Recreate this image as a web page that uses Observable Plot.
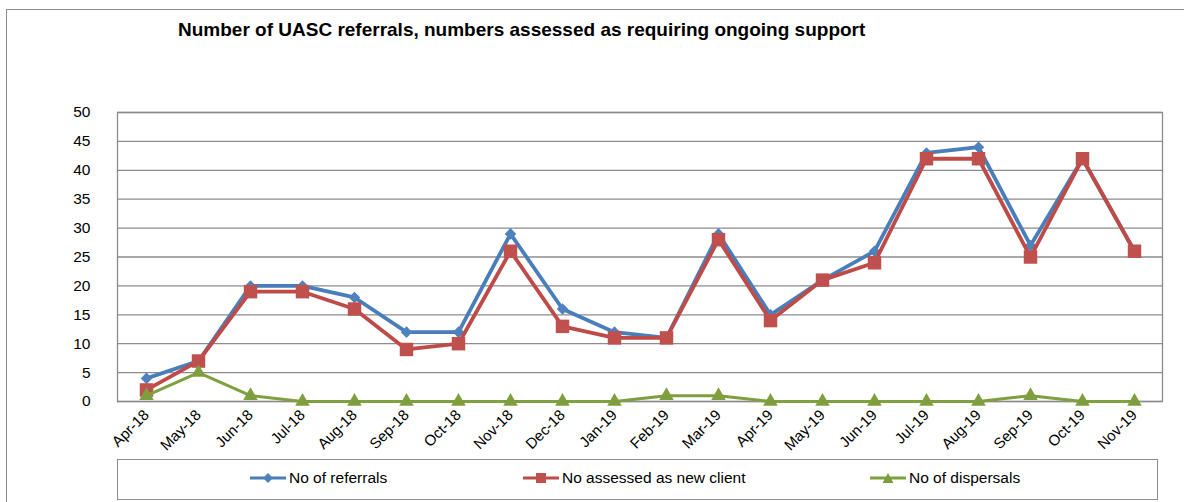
<!DOCTYPE html>
<html>
<head>
<meta charset="utf-8">
<script src="https://cdn.jsdelivr.net/npm/d3@7"></script>
<script src="https://cdn.jsdelivr.net/npm/@observablehq/plot@0.6"></script>
<style>
  html, body { margin: 0; padding: 0; background: #fff; overflow: hidden; }
  #wrap { position: relative; width: 1184px; height: 502px; font-family: "Liberation Sans", Arial, sans-serif; }
  #outer { position: absolute; left: 6px; top: 9px; width: 1200px; height: 520px; border: 1.5px solid #8c8c8c; box-sizing: border-box; }
  #title { position: absolute; left: 178px; top: 19px; font-weight: bold; font-size: 19px; color: #000; white-space: nowrap; }
  #chart { position: absolute; left: 0; top: 0; }
  #legend { position: absolute; left: 117px; top: 459px; width: 1041px; height: 41px; border: 1.5px solid #8c8c8c; box-sizing: border-box; }
  .item { position: absolute; top: 9px; font-size: 15.5px; color: #000; display: flex; align-items: center; white-space: nowrap; }
  .item svg { margin-right: 2px; }
</style>
</head>
<body>
<div id="wrap">
  <div id="outer"></div>
  <div id="title">Number of UASC referrals, numbers assessed as requiring ongoing support</div>
  <div id="chart"></div>
  <div id="legend"></div>
</div>
<script>
const months = ["Apr-18","May-18","Jun-18","Jul-18","Aug-18","Sep-18","Oct-18","Nov-18","Dec-18","Jan-19","Feb-19","Mar-19","Apr-19","May-19","Jun-19","Jul-19","Aug-19","Sep-19","Oct-19","Nov-19"];
const referrals  = [4,7,20,20,18,12,12,29,16,12,11,29,15,21,26,43,44,27,42,26];
const assessed   = [2,7,19,19,16,9,10,26,13,11,11,28,14,21,24,42,42,25,42,26];
const dispersals = [1,5,1,0,0,0,0,0,0,0,1,1,0,0,0,0,0,1,0,0];
const yTicks = [0,5,10,15,20,25,30,35,40,45,50];
const seriesNames = ["No of referrals","No assessed as new client","No of dispersals"];

const colors = {line: ["#4a7ebb","#be4b48","#7ea03f"], fill: ["#4f81bd","#c0504d","#7f9f3f"]};

const rows = (vals) => months.map((m, i) => ({month: m, value: vals[i]}));
const dRef = rows(referrals), dAss = rows(assessed), dDis = rows(dispersals);

const chart = Plot.plot({
  width: 1184,
  height: 502,
  marginTop: 112,
  marginBottom: 101,
  marginLeft: 117,
  marginRight: 22,
  style: {fontFamily: "'Liberation Sans', Arial, sans-serif", fontSize: "15px", color: "#000", background: "transparent"},
  x: {type: "point", domain: months, padding: 0.5, label: null},
  y: {domain: [0, 50], label: null},
  marks: [
    Plot.ruleY(yTicks, {stroke: "#8c8c8c", strokeWidth: 1.3}),
    Plot.frame({stroke: "#8c8c8c", strokeWidth: 1.3}),
    Plot.axisY({ticks: yTicks, tickSize: 0, tickPadding: 27, fontSize: 15.5, label: null}),
    Plot.axisX({tickSize: 0, tickPadding: 11, tickRotate: -45, fontSize: 15, label: null}),
    Plot.line(dRef, {x: "month", y: "value", stroke: colors.line[0], strokeWidth: 3.8}),
    Plot.dot(dRef, {x: "month", y: "value", symbol: "diamond2", r: 5.2, fill: colors.fill[0], stroke: null}),
    Plot.line(dAss, {x: "month", y: "value", stroke: colors.line[1], strokeWidth: 3.8}),
    Plot.dot(dAss, {x: "month", y: "value", symbol: "square", r: 7.6, fill: colors.fill[1], stroke: null}),
    Plot.line(dDis, {x: "month", y: "value", stroke: colors.line[2], strokeWidth: 3}),
    Plot.dot(dDis, {x: "month", y: "value", symbol: "triangle", r: 5.4, fill: colors.fill[2], stroke: null})
  ]
});
document.getElementById("chart").appendChild(chart);

// legend
const legend = document.getElementById("legend");
const lefts = [131, 404, 751];
const iconPaths = [
  '<path d="M14,1 L19,6 L14,11 L9,6 Z"/>',
  '<rect x="9" y="1" width="10" height="10"/>',
  '<path d="M14,1 L19.5,11 L8.5,11 Z"/>'
];
seriesNames.forEach((name, i) => {
  const div = document.createElement("div");
  div.className = "item";
  div.style.left = lefts[i] + "px";
  div.innerHTML = `<svg width="38" height="12"><line x1="1" y1="6" x2="37" y2="6" stroke="${colors.line[i]}" stroke-width="3"/><g fill="${colors.fill[i]}" transform="translate(5,0)">${iconPaths[i]}</g></svg><span>${name}</span>`;
  legend.appendChild(div);
});
</script>
</body>
</html>
